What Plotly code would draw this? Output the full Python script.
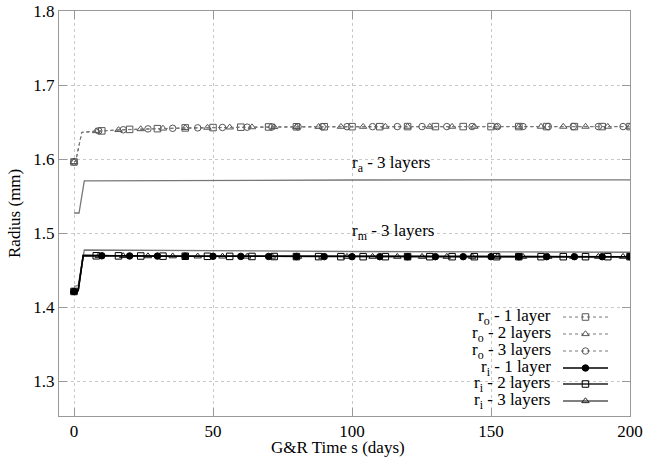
import plotly.graph_objects as go

# output times of each run (days) - markers
T1 = [0, 10, 20, 30, 40, 50, 60, 70, 80, 90, 100, 110, 120, 130, 140, 150, 160, 170, 180, 190, 200]
T2 = [0, 8, 16, 24, 32, 40, 48, 56, 64, 72, 80, 88, 96, 104, 112, 120, 128, 136, 144, 152, 160, 168,
      176, 184, 192, 200]
T3 = [0, 8.9, 17.7, 26.6, 35.5, 44.5, 53.4, 62.3, 71.2, 80.6, 89.3, 98.2, 107.4, 116.3, 125.2, 134.1,
      143.2, 152.3, 161.5, 170.6, 179.6, 188.6, 197.5]

# outer radius r_o (mm)
RO1 = [1.596, 1.638, 1.640, 1.641, 1.642, 1.6425, 1.643, 1.6433, 1.6435, 1.6436, 1.6437, 1.6437,
       1.6438, 1.6438, 1.6438, 1.6438, 1.6438, 1.6438, 1.6438, 1.6438, 1.6438]
RO2 = [1.596, 1.6378, 1.6393, 1.6405, 1.6413, 1.642, 1.6424, 1.6428, 1.6431, 1.6433, 1.6435, 1.6436,
       1.6437, 1.6437, 1.6438, 1.6438, 1.6438, 1.6438, 1.6438, 1.6438, 1.6438, 1.6438, 1.6438, 1.6438,
       1.6438, 1.6438]
RO3 = [1.596, 1.638, 1.6395, 1.6407, 1.6415, 1.6421, 1.6426, 1.643, 1.6433, 1.6435, 1.6436, 1.6437,
       1.6437, 1.6438, 1.6438, 1.6438, 1.6438, 1.6438, 1.6438, 1.6438, 1.6438, 1.6438, 1.6438]

# inner radius r_i (mm)
RI1 = [1.421, 1.4692, 1.469, 1.4688, 1.4686, 1.4685, 1.4684, 1.4683, 1.4682, 1.4681, 1.468, 1.468,
       1.468, 1.468, 1.468, 1.468, 1.468, 1.468, 1.468, 1.468, 1.468]
RI2 = [1.421, 1.4692, 1.4691, 1.4689, 1.4687, 1.4686, 1.4685, 1.4684, 1.4683, 1.4682, 1.4681, 1.4681,
       1.468, 1.468, 1.468, 1.468, 1.468, 1.468, 1.468, 1.468, 1.468, 1.468, 1.468, 1.468, 1.468, 1.468]
RI3 = [1.421, 1.4692, 1.469, 1.4688, 1.4687, 1.4685, 1.4684, 1.4683, 1.4682, 1.4681, 1.468, 1.468,
       1.468, 1.468, 1.468, 1.468, 1.468, 1.468, 1.468, 1.468, 1.468, 1.468, 1.468]

# loading ramp at the start of each run
RAMP_O_T = [0.6, 2.8]
RAMP_O_R = [1.597, 1.636]
RAMP_I_T = [1.5, 3.3]
RAMP_I_R = [1.422, 1.4695]

# 3-layer interface radii
TA = [0, 1.8, 3.7, 50, 100, 150, 200]
RA = [1.527, 1.527, 1.5705, 1.5713, 1.5716, 1.5717, 1.5717]
TM = [0, 1.5, 3.7, 50, 100, 150, 200]
RM = [1.428, 1.429, 1.477, 1.4758, 1.475, 1.4745, 1.474]

LEGEND_LABELS = ["r<sub>o</sub> - 1 layer", "r<sub>o</sub> - 2 layers", "r<sub>o</sub> - 3 layers",
                 "r<sub>i</sub> - 1 layer", "r<sub>i</sub> - 2 layers", "r<sub>i</sub> - 3 layers"]

FONT = "Liberation Serif, Times New Roman, serif"
GRAY = "#777777"

series = [
    # t, r, ramp_t, ramp_r, line colour, dash, width, symbol, marker colour
    (T1, RO1, RAMP_O_T, RAMP_O_R, GRAY, "dot", 1, "square-open", "#555555"),
    (T2, RO2, RAMP_O_T, RAMP_O_R, GRAY, "dot", 1, "triangle-up-open", "#555555"),
    (T3, RO3, RAMP_O_T, RAMP_O_R, GRAY, "dot", 1, "circle-open", "#555555"),
    (T3, RI3, RAMP_I_T, RAMP_I_R, "#555555", "solid", 1.5, "triangle-up-open", "#222222"),
    (T2, RI2, RAMP_I_T, RAMP_I_R, "#222222", "solid", 1.5, "square-open", "#000000"),
    (T1, RI1, RAMP_I_T, RAMP_I_R, "#000000", "solid", 1.5, "circle", "#000000"),
]

fig = go.Figure()

fig.add_trace(go.Scatter(x=TA, y=RA, mode="lines", line=dict(color=GRAY, width=1.3),
                         showlegend=False, hoverinfo="skip"))
fig.add_trace(go.Scatter(x=TM, y=RM, mode="lines", line=dict(color=GRAY, width=1.3),
                         showlegend=False, hoverinfo="skip"))

for t, r, rt, rr, lc, dash, lw, sym, mc in series:
    fig.add_trace(go.Scatter(
        x=t[:1] + rt + t[1:], y=r[:1] + rr + r[1:], mode="lines",
        line=dict(color=lc, width=lw, dash=dash), showlegend=False, hoverinfo="skip",
    ))
    fig.add_trace(go.Scatter(
        x=t, y=r, mode="markers",
        marker=dict(symbol=sym, size=6.5, color=mc, line=dict(color=mc, width=1)),
        showlegend=False,
    ))

# gnuplot-style key: text on the left, sample on the right
legend_styles = series[:3] + [series[5], series[4], series[3]]
row_y = [0.2444, 0.2025, 0.1605, 0.1185, 0.079, 0.037]
for label, ly, (t, r, rt, rr, lc, dash, lw, sym, mc) in zip(LEGEND_LABELS, row_y, legend_styles):
    fig.add_trace(go.Scatter(
        x=[0.8827, 0.9615], y=[ly, ly], mode="lines", xaxis="x2", yaxis="y2",
        line=dict(color=lc, width=lw, dash=dash), showlegend=False, hoverinfo="skip",
    ))
    fig.add_trace(go.Scatter(
        x=[0.922], y=[ly], mode="markers", xaxis="x2", yaxis="y2",
        marker=dict(symbol=sym, size=6.5, color=mc, line=dict(color=mc, width=1)),
        showlegend=False, hoverinfo="skip",
    ))
    fig.add_annotation(
        text=label, xref="paper", yref="paper", x=0.865, y=ly,
        xanchor="right", yanchor="middle", showarrow=False,
        font=dict(family=FONT, size=17, color="black"),
    )

fig.add_shape(type="rect", xref="paper", yref="paper", x0=0.6375, x1=1, y0=0, y1=0.264,
              fillcolor="white", line=dict(width=0), layer="between")

fig.add_annotation(text="r<sub>a</sub> - 3 layers", x=114, y=1.593, showarrow=False,
                   font=dict(family=FONT, size=17, color="black"))
fig.add_annotation(text="r<sub>m</sub> - 3 layers", x=114.7, y=1.502, showarrow=False,
                   font=dict(family=FONT, size=17, color="black"))

fig.add_annotation(text="G&R Time s (days)", xref="paper", yref="paper", x=0.4886, y=-0.077,
                   xanchor="center", yanchor="middle", showarrow=False,
                   font=dict(family=FONT, size=17, color="black"))
fig.add_annotation(text="Radius (mm)", xref="paper", yref="paper", x=-0.079, y=0.501,
                   xanchor="center", yanchor="middle", textangle=-90, showarrow=False,
                   font=dict(family=FONT, size=17, color="black"))

axis_common = dict(
    showgrid=True, gridcolor="#c8c8c8", griddash="dot", gridwidth=1,
    showline=True, linecolor="#999999", linewidth=1, mirror="ticks",
    ticks="inside", ticklen=8, tickcolor="#999999", zeroline=False,
    automargin=False,
    tickfont=dict(family=FONT, size=17, color="black"),
)

fig.update_layout(
    width=650, height=463,
    margin=dict(l=59, r=20, t=11, b=47),
    font=dict(family=FONT, size=17, color="black"),
    paper_bgcolor="white", plot_bgcolor="white",
    xaxis=dict(range=[-5.4, 200], tickvals=[0, 50, 100, 150, 200], **axis_common),
    yaxis=dict(range=[1.2527, 1.8], tickvals=[1.3, 1.4, 1.5, 1.6, 1.7, 1.8], tickformat=".1f",
               **axis_common),
    xaxis2=dict(overlaying="x", range=[0, 1], visible=False),
    yaxis2=dict(overlaying="y", range=[0, 1], visible=False),
    showlegend=False,
)

# the page body has a default 8px margin; drop it so the figure fills the window
fig.write_html("out.html", config={"displayModeBar": False},
               post_script="document.body.style.margin = '0';")
